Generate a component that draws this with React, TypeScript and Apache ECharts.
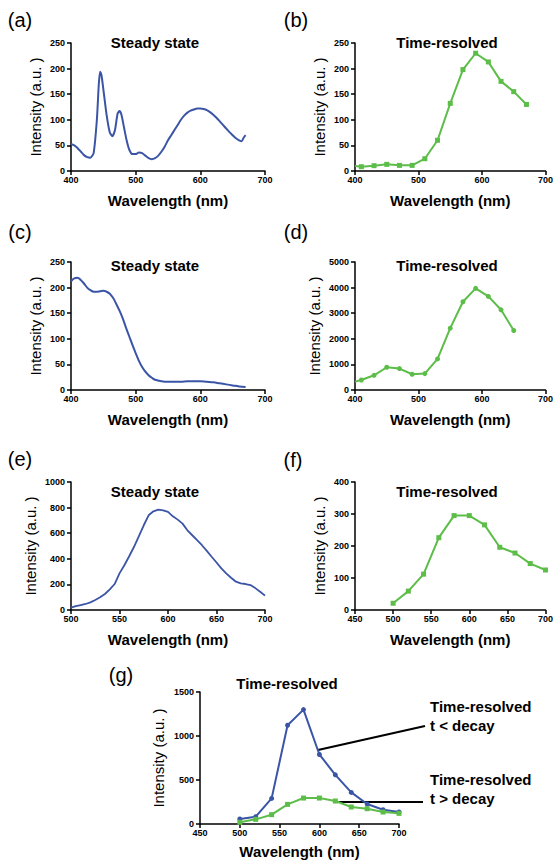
import React, { useEffect, useRef } from "react";
import * as echarts from "echarts";

const FONT = "'Liberation Sans', Arial, Helvetica, sans-serif";
const BLUE = "#3b55a6";
const GREEN = "#5cbd48";

// (a) steady state
const aWl = [400, 405, 410, 415, 420, 425, 430, 435, 440, 443, 445, 447, 450, 455, 460, 464, 468, 472, 475, 478, 482, 486, 490, 495, 500, 505, 510, 515, 520, 525, 530, 535, 540, 545, 550, 555, 560, 565, 570, 575, 580, 585, 590, 595, 600, 605, 610, 615, 620, 625, 630, 635, 640, 645, 650, 655, 660, 664, 667, 670];
const aInt = [53, 50, 45, 38, 31, 27, 26, 35, 100, 170, 194, 188, 160, 110, 75, 68, 80, 112, 117, 110, 85, 60, 42, 33, 33, 36, 35, 30, 25, 23, 25, 30, 38, 48, 60, 70, 80, 90, 100, 108, 114, 118, 120, 122, 122, 121, 119, 115, 110, 104, 97, 90, 83, 76, 70, 64, 60, 58, 65, 70];

// (b) time-resolved
const bWl = [400, 410, 430, 450, 470, 490, 510, 530, 550, 570, 590, 610, 630, 650, 670];
const bInt = [9.7, 8.4, 10.4, 13, 11, 11, 24, 60, 132, 198, 230, 213, 175, 155, 130];

// (c) steady state
const cWl = [400, 405, 410, 415, 420, 425, 430, 435, 440, 445, 450, 455, 460, 465, 470, 475, 480, 485, 490, 495, 500, 505, 510, 515, 520, 525, 530, 540, 550, 560, 570, 580, 590, 600, 610, 620, 630, 640, 650, 660, 670];
const cInt = [212, 218, 219, 215, 208, 200, 195, 192, 192, 193, 194, 192, 188, 180, 168, 155, 140, 122, 105, 88, 72, 57, 45, 36, 29, 24, 20, 17, 16, 16, 16, 17, 17, 17, 16, 15, 13, 11, 9, 7, 6];

// (d) time-resolved
const dWl = [400, 410, 430, 450, 470, 490, 510, 530, 550, 570, 590, 610, 630, 650];
const dInt = [326, 392, 574, 888, 836, 614, 640, 1214, 2415, 3446, 3969, 3655, 3133, 2324];

// (e) steady state
const eWl = [500, 505, 510, 515, 520, 525, 530, 535, 540, 545, 550, 555, 560, 565, 570, 575, 580, 585, 590, 595, 600, 605, 610, 615, 620, 625, 630, 635, 640, 645, 650, 655, 660, 665, 670, 675, 680, 685, 690, 695, 700];
const eInt = [18, 31, 39, 47, 60, 78, 99, 125, 161, 203, 286, 350, 420, 494, 577, 662, 740, 771, 784, 779, 766, 732, 706, 675, 623, 584, 545, 506, 462, 416, 371, 325, 286, 252, 221, 208, 203, 195, 171, 143, 112];

// (f) time-resolved
const fWl = [500, 520, 540, 560, 580, 600, 620, 640, 660, 680, 700];
const fInt = [21, 59, 112, 226, 295, 295, 266, 196, 178, 145, 125];

// (g) time-resolved, two delays
const gWl = [500, 520, 540, 560, 580, 600, 620, 640, 660, 680, 700];
const gEarly = [57, 83, 291, 1122, 1300, 790, 559, 359, 227, 162, 136];
const gLate = [19, 53, 106, 223, 295, 295, 261, 193, 174, 136, 121];

const xTitle = "Wavelength (nm)";
const yTitle = "Intensity (a.u. )";

function zip(xs: number[], ys: number[]) {
  return xs.map((x, i) => [x, ys[i]]);
}

const plain = (v: number) => String(v);

function axes(i: number, xr: number[], yr: number[], yGap: number, xGap: number) {
  const common = {
    gridIndex: i,
    type: "value" as const,
    axisLine: { show: true, lineStyle: { color: "#000", width: 1.5 } },
    axisTick: { show: true, inside: false, length: 4, lineStyle: { color: "#000", width: 1.5 } },
    splitLine: { show: false },
    nameLocation: "middle" as const,
  };
  const x = {
    ...common,
    min: xr[0], max: xr[1], interval: xr[2],
    axisLabel: { color: "#000", fontWeight: "bold", fontSize: 9, fontFamily: FONT, margin: 4, formatter: plain },
    name: xTitle, nameGap: xGap,
    nameTextStyle: { color: "#000", fontWeight: "bold", fontSize: 15, fontFamily: FONT },
  };
  const y = {
    ...common,
    min: yr[0], max: yr[1], interval: yr[2],
    axisLabel: { color: "#000", fontWeight: "bold", fontSize: 9, fontFamily: FONT, margin: 6, formatter: plain },
    name: yTitle, nameGap: yGap,
    nameTextStyle: { color: "#000", fontWeight: "normal", fontSize: 15, fontFamily: FONT },
  };
  return { x, y };
}

function txt(text: string, x: number, y: number, size: number, weight: string, align = "center") {
  return {
    type: "text",
    x, y,
    style: {
      text, fill: "#000", fontSize: size, fontWeight: weight, fontFamily: FONT,
      textAlign: align, align, textVerticalAlign: "middle", verticalAlign: "middle",
    },
  };
}

export default function App() {
  const ref = useRef<HTMLDivElement>(null);
  useEffect(() => {
    if (!ref.current) return;
    const chart = echarts.init(ref.current, undefined, { renderer: "svg" });
    const grids = [
      { left: 71, top: 43, width: 194, height: 128 },
      { left: 355, top: 43, width: 194, height: 128 },
      { left: 71, top: 262, width: 194, height: 128 },
      { left: 355, top: 262, width: 194, height: 128 },
      { left: 71, top: 482, width: 194, height: 128 },
      { left: 355, top: 482, width: 194, height: 128 },
      { left: 200, top: 692, width: 199, height: 132 },
    ];
    const ax = [
      axes(0, [400, 700, 100], [0, 250, 50], 28, 22),
      axes(1, [400, 700, 100], [0, 250, 50], 28, 22),
      axes(2, [400, 700, 100], [0, 250, 50], 28, 22),
      axes(3, [400, 700, 100], [0, 5000, 1000], 33, 22),
      axes(4, [500, 700, 50], [0, 1000, 200], 33, 22),
      axes(5, [450, 700, 50], [0, 400, 100], 28, 22),
      axes(6, [450, 700, 50], [0, 1500, 500], 34, 20),
    ];
    const lineBase = (i: number, color: string) => ({
      type: "line" as const,
      xAxisIndex: i,
      yAxisIndex: i,
      color,
      lineStyle: { color, width: 2 },
      itemStyle: { color },
      clip: false,
    });
    const firstHidden = (d: number[][]) =>
      d.map((p, k) => (k === 0 ? { value: p, symbol: "none" } : p));

    chart.setOption({
      animation: false,
      backgroundColor: "#fff",
      grid: grids,
      xAxis: ax.map((a) => a.x),
      yAxis: ax.map((a) => a.y),
      series: [
        { ...lineBase(0, BLUE), data: zip(aWl, aInt), showSymbol: false, smooth: 0.2 },
        { ...lineBase(1, GREEN), data: firstHidden(zip(bWl, bInt)), symbol: "rect", symbolSize: 5 },
        { ...lineBase(2, BLUE), data: zip(cWl, cInt), showSymbol: false, smooth: 0.4 },
        { ...lineBase(3, GREEN), data: firstHidden(zip(dWl, dInt)), symbol: "circle", symbolSize: 5 },
        { ...lineBase(4, BLUE), data: zip(eWl, eInt), showSymbol: false, lineStyle: { color: BLUE, width: 1.8 } },
        { ...lineBase(5, GREEN), data: zip(fWl, fInt), symbol: "rect", symbolSize: 5 },
        { ...lineBase(6, BLUE), data: zip(gWl, gEarly), symbol: "circle", symbolSize: 5 },
        { ...lineBase(6, GREEN), data: zip(gWl, gLate), symbol: "rect", symbolSize: 5 },
      ],
      graphic: [
        txt("(a)", 20, 20, 20, "normal"),
        txt("(b)", 296, 20, 20, "normal"),
        txt("(c)", 20, 232, 20, "normal"),
        txt("(d)", 296, 232, 20, "normal"),
        txt("(e)", 20, 459, 20, "normal"),
        txt("(f)", 293, 460, 20, "normal"),
        txt("(g)", 121, 675, 20, "normal"),
        txt("Steady state", 155, 42, 15, "bold"),
        txt("Time-resolved", 447, 42, 15, "bold"),
        txt("Steady state", 155, 265, 15, "bold"),
        txt("Time-resolved", 447, 265, 15, "bold"),
        txt("Steady state", 155, 491, 15, "bold"),
        txt("Time-resolved", 447, 491, 15, "bold"),
        txt("Time-resolved", 287, 683, 15, "bold"),
        txt("Time-resolved", 430, 706, 15, "bold", "left"),
        txt("t < decay", 430, 725, 15, "bold", "left"),
        txt("Time-resolved", 430, 779, 15, "bold", "left"),
        txt("t > decay", 430, 798, 15, "bold", "left"),
        { type: "line", shape: { x1: 318, y1: 750, x2: 425, y2: 726 }, style: { stroke: "#000", lineWidth: 2.2 } },
        { type: "line", shape: { x1: 335, y1: 802, x2: 423, y2: 802 }, style: { stroke: "#000", lineWidth: 2.2 } },
      ],
    });
    return () => chart.dispose();
  }, []);
  return (
    <div
      ref={ref}
      style={{ position: "fixed", left: 0, top: 0, width: 556, height: 864, background: "#fff" }}
    />
  );
}
